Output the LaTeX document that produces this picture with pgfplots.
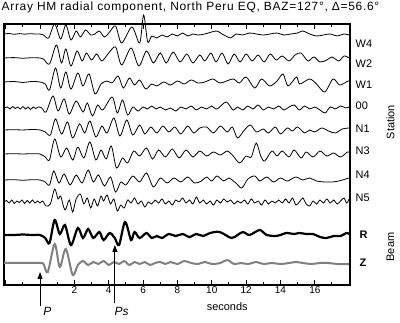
\documentclass[border=0pt]{standalone}
\usepackage{fontspec}
\setmainfont{Liberation Sans}
\newfontfamily\spaced{Liberation Sans}[LetterSpace=6]
\usepackage{pgfplots}
\pgfplotsset{compat=1.18}
\usepackage{pgfplotstable}
\usetikzlibrary{arrows.meta}

\pgfplotstableread[row sep=\\]{
t d\\
-2.1 0\\ -1.8 0.5\\ -1.5 -0.3\\ -1.2 0.4\\ -0.9 -0.2\\ -0.6 0.3\\ -0.3 0\\ 0 0\\ 0.2 -1\\ 0.5 -4\\ 0.85 10\\ 1.2 -5\\ 1.5 9\\ 1.8 -6\\ 2.1 3\\ 2.35 -3\\ 2.65 4\\ 2.95 -1\\ 3.2 0\\ 3.45 3\\ 3.75 -3\\ 4.05 2\\ 4.4 8\\ 4.75 -9\\ 5.35 7\\ 5.8 -9\\ 6.03 19\\ 6.27 -8\\ 6.5 -2\\ 6.8 -4\\ 7.1 -1\\ 7.4 -3\\ 7.7 0\\ 8.0 -2\\ 8.3 1\\ 8.6 -2\\ 8.9 0\\ 9.2 -1\\ 9.6 0\\ 10.27 3\\ 10.6 0\\ 11.1 -4\\ 11.4 0\\ 11.8 -1\\ 12.2 1\\ 12.6 0\\ 13.0 -1\\ 13.4 0\\ 13.8 1\\ 14.2 -1\\ 14.6 0\\ 15.0 1\\ 15.3 3\\ 15.7 0\\ 16.1 -2\\ 16.5 -1\\ 16.9 0\\ 17.3 -2\\ 17.7 0\\ 18.0 -1\\
}\Wfour

\pgfplotstableread[row sep=\\]{
t d\\
-2.1 0\\ -1.5 0.4\\ -1.0 -0.3\\ -0.5 0.3\\ 0 0\\ 0.2 -1\\ 0.55 -6\\ 0.95 13\\ 1.25 -5\\ 1.5 9\\ 1.8 -8\\ 2.15 7\\ 2.45 -3\\ 2.7 5\\ 3.0 -2\\ 3.3 4\\ 3.6 -3\\ 4.0 5\\ 4.4 11\\ 4.75 -7\\ 5.3 10\\ 5.75 -8\\ 6.2 7\\ 6.6 -5\\ 7.0 5\\ 7.35 -5\\ 7.75 6\\ 8.15 -4\\ 8.55 4\\ 8.9 -5\\ 9.3 3\\ 9.6 -3\\ 9.95 5\\ 10.25 -4\\ 10.6 5\\ 10.95 -6\\ 11.3 4\\ 11.65 -4\\ 12.0 4\\ 12.35 -3\\ 12.7 3\\ 13.05 -4\\ 13.4 4\\ 13.75 -2\\ 14.1 2\\ 14.5 -3\\ 14.85 3\\ 15.2 5\\ 15.6 -3\\ 15.95 1\\ 16.3 -4\\ 16.7 -2\\ 17.0 1\\ 17.4 -3\\ 17.7 2\\ 18.0 0\\
}\Wtwo

\pgfplotstableread[row sep=\\]{
t d\\
-2.1 0\\ -1.5 0.5\\ -1 -0.5\\ -0.5 0.5\\ 0 0\\ 0.3 -2\\ 0.55 -8\\ 0.9 14\\ 1.2 -6\\ 1.5 10\\ 1.8 -7\\ 2.2 9\\ 2.5 -4\\ 2.85 8\\ 3.2 -12\\ 3.55 -2\\ 3.9 1\\ 4.2 -1\\ 4.55 6\\ 4.85 -6\\ 5.2 4\\ 5.5 -3\\ 5.8 2\\ 6.15 -7\\ 6.5 -2\\ 6.8 -4\\ 7.2 0\\ 7.6 -3\\ 8.0 1\\ 8.4 -2\\ 8.8 2\\ 9.2 -1\\ 9.6 0\\ 10.07 3\\ 10.5 -1\\ 11.23 3\\ 11.6 -1\\ 12.0 5\\ 12.5 -6\\ 12.9 3\\ 13.37 -4\\ 13.8 1\\ 14.15 8\\ 14.44 -4\\ 14.93 5\\ 15.12 -2\\ 15.7 3\\ 16.1 -2\\ 16.58 -10\\ 17.06 3\\ 17.45 -3\\ 17.94 1\\ 18.0 1\\
}\Wone

\pgfplotstableread[row sep=\\]{
t d\\
-2.1 0\\ -1.9 1\\ -1.75 -1\\ -1.6 1.5\\ -1.45 -0.5\\ -1.3 1\\ -1.15 -1\\ -1.0 1.5\\ -0.85 -1\\ -0.7 1\\ -0.55 -1.5\\ -0.4 1\\ -0.25 -0.5\\ -0.1 1\\ 0.1 0\\ 0.35 -4\\ 0.75 12\\ 1.05 -3\\ 1.4 9\\ 1.7 -6\\ 2.1 7\\ 2.5 -4\\ 2.75 5\\ 3.05 -8\\ 3.35 3\\ 3.65 -2\\ 4.2 11\\ 4.5 -5\\ 4.8 8\\ 5.1 -7\\ 5.4 1\\ 5.7 -3\\ 6.0 1\\ 6.25 -1\\ 6.5 2\\ 6.75 -1\\ 7.0 1\\ 7.3 -2\\ 7.6 0\\ 7.9 -3\\ 8.2 1\\ 8.5 -1\\ 8.8 2\\ 9.1 -2\\ 9.4 1\\ 9.7 -1\\ 10.0 2\\ 10.3 -1\\ 10.84 6\\ 11.23 -2\\ 11.5 1\\ 11.8 -2\\ 12.1 2\\ 12.4 -1\\ 12.7 3\\ 13.0 -2\\ 13.3 1\\ 13.6 -1\\ 13.9 2\\ 14.2 -2\\ 14.5 1\\ 14.8 3\\ 15.1 -2\\ 15.4 2\\ 15.7 -1\\ 16.0 1\\ 16.3 -2\\ 16.6 -5\\ 16.9 1\\ 17.2 -1\\ 17.5 2\\ 17.8 0\\ 18.0 1\\
}\Zerozero

\pgfplotstableread[row sep=\\]{
t d\\
-2.1 0\\ -1.5 0.3\\ -1 0\\ -0.5 0.5\\ 0 0\\ 0.3 -2\\ 0.6 -5\\ 0.9 11\\ 1.25 -4\\ 1.6 8\\ 1.9 -8\\ 2.3 6\\ 2.6 -3\\ 2.9 9\\ 3.25 -7\\ 3.6 4\\ 3.9 -3\\ 4.3 12\\ 4.65 -6\\ 5.05 10\\ 5.4 -5\\ 5.8 5\\ 6.1 -4\\ 6.45 3\\ 6.8 -3\\ 7.15 4\\ 7.5 -2\\ 7.85 3\\ 8.2 -4\\ 8.6 4\\ 8.95 -3\\ 9.3 2\\ 9.7 3\\ 10.1 -3\\ 10.5 4\\ 10.9 -2\\ 11.2 3\\ 11.5 -8\\ 11.9 0\\ 12.25 5\\ 12.6 -2\\ 13.0 1\\ 13.3 -3\\ 13.7 3\\ 14.0 -4\\ 14.4 2\\ 14.7 -1\\ 15.0 3\\ 15.4 -3\\ 15.7 0\\ 16.0 -2\\ 16.4 2\\ 16.8 -1\\ 17.2 -3\\ 17.6 1\\ 18.0 2\\
}\None

\pgfplotstableread[row sep=\\]{
t d\\
-2.1 0\\ -1.5 0.3\\ -1 0\\ -0.5 0.3\\ 0 0\\ 0.3 -3\\ 0.55 -6\\ 0.85 15\\ 1.2 -3\\ 1.55 6\\ 1.9 -6\\ 2.2 7\\ 2.55 -4\\ 2.9 12\\ 3.25 -6\\ 3.55 4\\ 3.85 -5\\ 4.15 8\\ 4.45 -14\\ 4.8 -4\\ 5.1 -9\\ 5.45 3\\ 5.8 -2\\ 6.2 6\\ 6.55 -5\\ 6.9 4\\ 7.3 -3\\ 7.7 5\\ 8.1 -4\\ 8.5 4\\ 8.9 -3\\ 9.3 3\\ 9.7 -2\\ 10.1 2\\ 10.5 -1\\ 10.9 3\\ 11.2 -1\\ 11.62 -9\\ 12.0 -2\\ 12.3 -3\\ 12.59 11\\ 12.85 -2\\ 13.08 -7\\ 13.5 3\\ 13.8 -2\\ 14.1 3\\ 14.5 -3\\ 14.8 4\\ 15.2 -4\\ 15.5 2\\ 15.9 -3\\ 16.3 3\\ 16.7 -2\\ 17.1 1\\ 17.5 -3\\ 17.9 2\\ 18.0 2\\
}\Nthree

\pgfplotstableread[row sep=\\]{
t d\\
-2.1 0\\ -1.5 0.3\\ -1 -0.3\\ -0.5 0.3\\ 0 0\\ 0.3 -2\\ 0.55 -5\\ 0.8 9\\ 1.1 -3\\ 1.4 6\\ 1.75 -5\\ 2.1 5\\ 2.45 -3\\ 2.8 10\\ 3.1 -2\\ 3.4 5\\ 3.75 -6\\ 4.1 3\\ 4.4 -12\\ 4.7 -2\\ 5.0 -5\\ 5.4 4\\ 5.8 -2\\ 6.2 7\\ 6.6 -7\\ 7.0 2\\ 7.4 -3\\ 7.8 2\\ 8.2 -2\\ 8.6 3\\ 9.0 -3\\ 9.4 -1\\ 9.7 3\\ 10.0 -1\\ 10.3 4\\ 10.7 -1\\ 11.0 2\\ 11.4 -3\\ 11.75 -8\\ 12.1 1\\ 12.5 4\\ 12.8 -1\\ 13.2 3\\ 13.6 -2\\ 14.0 2\\ 14.4 -1\\ 14.9 3\\ 15.3 0\\ 15.7 2\\ 16.1 -1\\ 16.6 -2\\ 17.0 -2\\ 17.4 -1\\ 17.8 1\\ 18.0 2\\
}\Nfour

\pgfplotstableread[row sep=\\]{
t d\\
-2.1 0\\ -1.95 1.5\\ -1.8 -1\\ -1.65 2\\ -1.5 -1.5\\ -1.35 1\\ -1.2 -0.5\\ -1.05 2\\ -0.9 -1.5\\ -0.75 1.5\\ -0.6 -1\\ -0.45 2\\ -0.3 -1\\ -0.15 1\\ 0 -1\\ 0.15 1\\ 0.35 -4\\ 0.6 -2\\ 0.85 13\\ 1.05 3\\ 1.2 6\\ 1.45 -8\\ 1.7 2\\ 1.9 -10\\ 2.1 3\\ 2.35 8\\ 2.55 -2\\ 2.75 4\\ 2.95 -6\\ 3.15 3\\ 3.35 -4\\ 3.55 6\\ 3.7 1\\ 3.9 7\\ 4.1 -2\\ 4.3 3\\ 4.5 -9\\ 4.7 -3\\ 4.9 -6\\ 5.1 2\\ 5.3 -1\\ 5.5 4\\ 5.7 -2\\ 5.9 1\\ 6.1 -5\\ 6.3 0\\ 6.5 -2\\ 6.7 2\\ 6.9 -1\\ 7.1 3\\ 7.3 -2\\ 7.5 1\\ 7.7 -3\\ 7.9 2\\ 8.1 0\\ 8.3 4\\ 8.5 -1\\ 8.7 2\\ 8.9 -2\\ 9.1 5\\ 9.3 -1\\ 9.5 2\\ 9.7 -2\\ 9.9 1\\ 10.1 -3\\ 10.3 2\\ 10.5 -1\\ 10.7 3\\ 10.9 0\\ 11.1 2\\ 11.3 -2\\ 11.5 1\\ 11.7 -1\\ 11.9 2\\ 12.1 -2\\ 12.3 3\\ 12.5 -1\\ 12.7 1\\ 12.9 -3\\ 13.1 2\\ 13.3 -2\\ 13.5 1\\ 13.7 -1\\ 13.9 2\\ 14.1 -1\\ 14.3 3\\ 14.5 -1\\ 14.7 4\\ 14.9 -3\\ 15.1 0\\ 15.3 4\\ 15.5 -2\\ 15.7 -4\\ 15.9 1\\ 16.1 -2\\ 16.3 2\\ 16.5 -1\\ 16.7 3\\ 16.9 -1\\ 17.1 2\\ 17.3 -2\\ 17.5 1\\ 17.7 4\\ 17.85 -1\\ 18.0 3\\
}\Nfive

\pgfplotstableread[row sep=\\]{
t d\\
-2.1 0\\ -1.5 0\\ -1.0 0.5\\ -0.5 0\\ 0 0\\ 0.3 -3\\ 0.55 -8\\ 0.85 15\\ 1.15 1\\ 1.45 10\\ 1.8 -10\\ 2.2 7\\ 2.5 -3\\ 2.8 6\\ 3.1 -3\\ 3.45 3\\ 3.7 -5\\ 4.05 2\\ 4.35 -3\\ 4.6 -10\\ 4.95 13\\ 5.3 -5\\ 5.5 3\\ 5.8 -3\\ 6.2 2\\ 6.5 -3\\ 6.8 -1\\ 7.1 -3\\ 7.5 1\\ 7.9 -1\\ 8.3 1\\ 8.7 -2\\ 9.1 1\\ 9.5 -1\\ 9.9 2\\ 10.46 3\\ 11.14 -3\\ 11.5 0\\ 11.82 3\\ 12.2 0\\ 12.79 5\\ 13.2 0\\ 13.76 -1\\ 14.0 0\\ 14.34 2\\ 14.8 1\\ 15.1 2\\ 15.51 1\\ 15.9 1\\ 16.3 -2\\ 16.68 -3\\ 17.1 -1\\ 17.5 -1\\ 17.84 2\\ 18.0 1\\
}\Rbeam

\pgfplotstableread[row sep=\\]{
t d\\
-2.1 0\\ -1 0\\ 0 0\\ 0.2 -1\\ 0.45 -9\\ 0.85 19\\ 1.15 -4\\ 1.5 14\\ 1.9 -12\\ 2.2 -2\\ 2.5 2\\ 2.8 -2\\ 3.1 1\\ 3.4 -1\\ 3.7 2\\ 4.0 -2\\ 4.3 1\\ 4.6 -1\\ 4.9 2\\ 5.2 -2\\ 5.5 1\\ 5.8 -1\\ 6.1 1\\ 6.4 -2\\ 6.7 0\\ 7.0 1\\ 7.3 -1\\ 7.6 1\\ 8.0 -1\\ 8.4 2\\ 8.8 0\\ 9.2 -1\\ 9.6 1\\ 10.0 -1\\ 10.5 0\\ 10.9 3\\ 11.3 -1\\ 11.7 0\\ 12.1 -1\\ 12.6 1\\ 13.0 -1\\ 13.5 0\\ 14.0 -1\\ 14.5 0\\ 14.9 1\\ 15.3 0\\ 15.8 -1\\ 16.3 0\\ 16.8 0\\ 17.3 -1\\ 18.0 -1\\
}\Zbeam

\begin{document}
\begin{tikzpicture}
\useasboundingbox (-4bp,-38bp) rectangle (396bp,285bp);
\begin{axis}[
  at={(0,0)}, anchor=south west,
  scale only axis, width=346bp, height=261bp,
  xmin=-2.1, xmax=18.05, ymin=0, ymax=261,
  axis line style={line width=2bp},
  ytick=\empty,
  xtick={-2,0,...,16}, xticklabels={,,2,4,6,8,10,12,14,16},
  minor xtick={-1,1,3,...,17},
  xtick pos=both, xticklabel pos=lower, tick align=inside,
  major tick length=5bp, minor tick length=3bp,
  tick style={line width=1bp, black},
  xticklabel style={font=\fontsize{10}{12}\selectfont, inner sep=1.5bp},
  /pgf/number format/assume math mode=true,
  clip=false,
]
\addplot[black, line width=0.8bp, smooth, tension=0.5] table[x=t, y expr=\thisrow{d}+251] {\Wfour};
\addplot[black, line width=0.8bp, smooth, tension=0.5] table[x=t, y expr=\thisrow{d}+227] {\Wtwo};
\addplot[black, line width=0.8bp, smooth, tension=0.5] table[x=t, y expr=\thisrow{d}+203] {\Wone};
\addplot[black, line width=0.8bp, smooth, tension=0.5] table[x=t, y expr=\thisrow{d}+177] {\Zerozero};
\addplot[black, line width=0.8bp, smooth, tension=0.5] table[x=t, y expr=\thisrow{d}+155] {\None};
\addplot[black, line width=0.8bp, smooth, tension=0.5] table[x=t, y expr=\thisrow{d}+131] {\Nthree};
\addplot[black, line width=0.8bp, smooth, tension=0.5] table[x=t, y expr=\thisrow{d}+105] {\Nfour};
\addplot[black, line width=0.8bp, smooth, tension=0.5] table[x=t, y expr=\thisrow{d}+83] {\Nfive};
\addplot[black, line width=2.2bp, smooth, tension=0.5] table[x=t, y expr=\thisrow{d}+50] {\Rbeam};
\addplot[gray, line width=2bp, smooth, tension=0.5] table[x=t, y expr=\thisrow{d}+22] {\Zbeam};

\begin{scope}[every node/.style={anchor=west, inner sep=0pt, font=\fontsize{11}{13}\selectfont}]
\node at (axis cs:18.37,241) {W4};
\node at (axis cs:18.37,221) {W2};
\node at (axis cs:18.37,200) {W1};
\node at (axis cs:18.37,179) {00};
\node at (axis cs:18.37,156) {N1};
\node at (axis cs:18.37,134) {N3};
\node at (axis cs:18.37,110) {N4};
\node at (axis cs:18.37,87) {N5};
\node[font=\fontsize{11}{13}\selectfont\bfseries] at (axis cs:18.6,50) {R};
\node[font=\fontsize{11}{13}\selectfont\bfseries] at (axis cs:18.6,22) {Z};
\end{scope}
\node[rotate=90, font=\fontsize{11}{13}\selectfont] at (axis cs:20.4,163) {Station};
\node[rotate=90, font=\fontsize{11}{13}\selectfont] at (axis cs:20.4,38) {Beam};
\node[font=\fontsize{11}{13}\selectfont] at (axis cs:10.9,-22) {seconds};
\draw[-{Triangle[length=7bp,width=5bp]}, line width=1bp] (axis cs:0,-21) -- (axis cs:0,13);
\draw[-{Triangle[length=7bp,width=5bp]}, line width=1bp] (axis cs:4.36,-18) -- (axis cs:4.36,40);
\node[font=\fontsize{12}{14}\selectfont\itshape] at (axis cs:0.43,-26) {P};
\node[font=\fontsize{12}{14}\selectfont\itshape] at (axis cs:4.75,-26) {Ps};
\node[anchor=west, inner sep=0pt, font=\spaced\fontsize{12}{14}\selectfont] at (axis cs:-2.25,278) {Array HM radial component, North Peru EQ, BAZ=127°, Δ=56.6°};
\end{axis}
\end{tikzpicture}
\end{document}
